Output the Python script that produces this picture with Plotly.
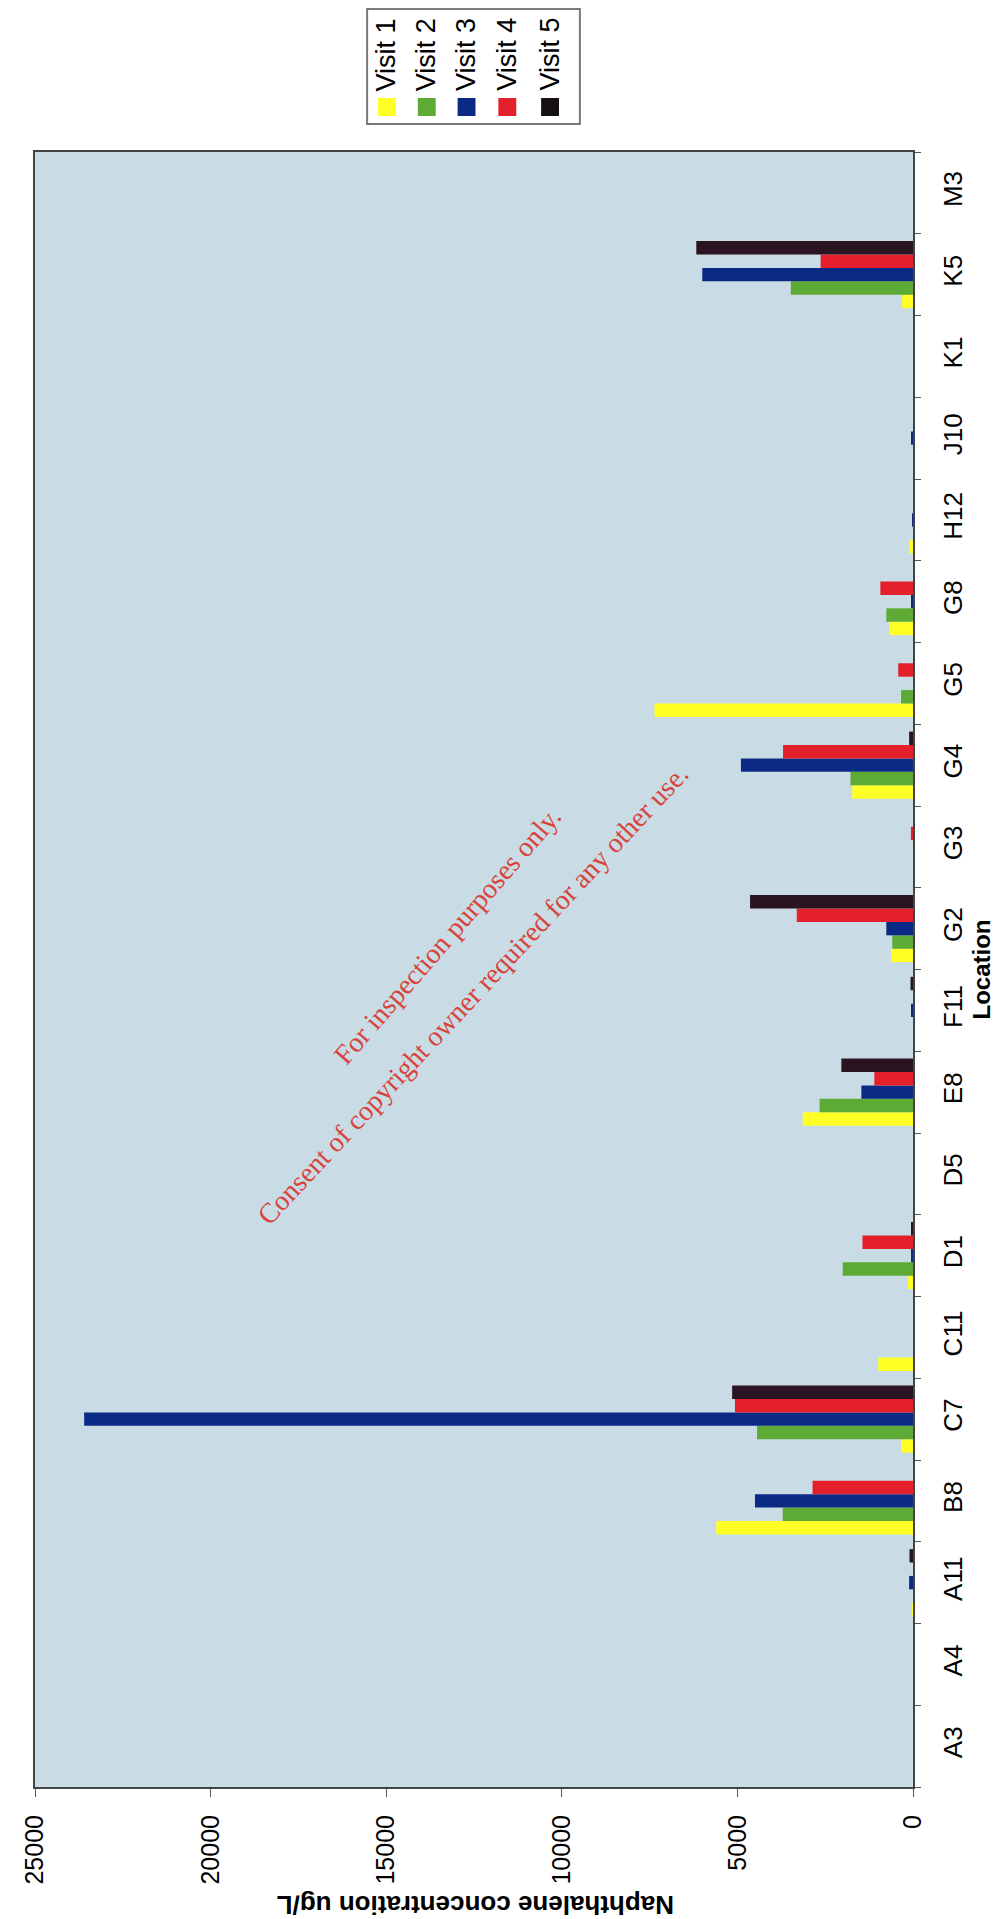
import plotly.graph_objects as go

# ---- data ----
locations = ["A3", "A4", "A11", "B8", "C7", "C11", "D1", "D5", "E8", "F11",
             "G2", "G3", "G4", "G5", "G8", "H12", "J10", "K1", "K5", "M3"]
series_names = ["Visit 1", "Visit 2", "Visit 3", "Visit 4", "Visit 5"]
visit1 = [0, 0, 20, 5600, 340, 990, 140, 0, 3140, 0, 620, 0, 1730, 7360, 680, 100, 0, 0, 310, 0]
visit2 = [0, 0, 0, 3710, 4440, 0, 2000, 0, 2660, 0, 590, 0, 1780, 340, 760, 0, 0, 0, 3480, 0]
visit3 = [0, 0, 110, 4500, 23600, 0, 30, 0, 1470, 30, 760, 0, 4900, 0, 30, 20, 30, 0, 6000, 0]
visit4 = [0, 0, 0, 2860, 5070, 0, 1440, 0, 1100, 0, 3310, 60, 3700, 420, 930, 0, 0, 0, 2630, 0]
visit5 = [0, 0, 100, 0, 5150, 0, 50, 0, 2040, 70, 4640, 0, 110, 0, 0, 0, 0, 0, 6170, 0]
value_ticks = [0, 5000, 10000, 15000, 20000, 25000]

colors = ["#FFFF26", "#5DAA34", "#0A2A85", "#E3202C", "#2A1421"]
legend_colors = ["#FFFF26", "#5DAA34", "#0A2A85", "#E3202C", "#141014"]

W, H = 1005, 1919
L, R, T, B = 22, 905, 144, 1779


def px_x(x):
    return (x - L) / (R - L)


def px_y(y):
    return (B - y) / (B - T)


fig = go.Figure()
for name, vals, col in zip(series_names, [visit1, visit2, visit3, visit4, visit5], colors):
    fig.add_trace(go.Bar(y=locations, x=vals, orientation="h", name=name,
                         marker=dict(color=col, line=dict(width=0))))

font = "Liberation Sans, Arial, sans-serif"
serif = "Liberation Serif, Times New Roman, serif"

fig.update_layout(
    width=W, height=H,
    margin=dict(l=L, r=W - R, t=T, b=H - B),
    paper_bgcolor="white", plot_bgcolor="#C9DCE5",
    barmode="group", bargap=0.18, bargroupgap=0.0,
    showlegend=False,
    font=dict(family=font, size=24, color="black"),
)
fig.update_xaxes(
    range=[25000, 0], tickvals=value_ticks, ticktext=[str(v) for v in value_ticks],
    tickangle=-90, ticks="outside", ticklen=8, tickcolor="#555", ticklabelstandoff=8,
    showgrid=False, zeroline=False, showline=True, linecolor="#444", linewidth=2, mirror=True,
    tickfont=dict(family=font, size=25, color="black"),
)
fig.update_yaxes(
    categoryorder="array", categoryarray=locations, side="right",
    tickangle=-90, ticks="outside", ticklen=6, tickcolor="#555", tickson="boundaries",
    ticklabelstandoff=16,
    showgrid=False, zeroline=False, showline=True, linecolor="#444", linewidth=2, mirror=True,
    tickfont=dict(family=font, size=26, color="black"),
    title=dict(text="<b>Location</b>", font=dict(family=font, size=24, color="black"), standoff=6),
)

annotations = [
    dict(text="<b>Naphthalene concentration ug/L</b>", x=px_x(465), y=px_y(1897),
         xref="paper", yref="paper", showarrow=False, textangle=180,
         font=dict(family=font, size=26, color="black"), xanchor="center", yanchor="middle"),
    dict(text="For inspection purposes only.", x=px_x(437), y=px_y(928),
         xref="paper", yref="paper", showarrow=False, textangle=-49,
         font=dict(family=serif, size=28, color="#D8433B"),
         xanchor="center", yanchor="middle"),
    dict(text="Consent of copyright owner required for any other use.", x=px_x(462), y=px_y(986),
         xref="paper", yref="paper", showarrow=False, textangle=-47,
         font=dict(family=serif, size=28, color="#D8433B"),
         xanchor="center", yanchor="middle"),
]

shapes = [
    dict(type="rect", xref="paper", yref="paper", x0=px_x(356), x1=px_x(570),
         y0=px_y(116), y1=px_y(1), line=dict(color="#7a7a7a", width=2), fillcolor="white"),
]
legend_x = [376, 416, 456, 497, 540]
for name, col, lx in zip(series_names, legend_colors, legend_x):
    shapes.append(dict(type="rect", xref="paper", yref="paper",
                       x0=px_x(lx - 9), x1=px_x(lx + 9), y0=px_y(108), y1=px_y(90),
                       line=dict(width=0), fillcolor=col))
    annotations.append(dict(text=name, x=px_x(lx), y=px_y(85), xref="paper", yref="paper",
                            showarrow=False, textangle=-90, xanchor="center", yanchor="bottom",
                            font=dict(family=font, size=27, color="black")))

fig.update_layout(annotations=annotations, shapes=shapes)
fig.write_html("out.html")
